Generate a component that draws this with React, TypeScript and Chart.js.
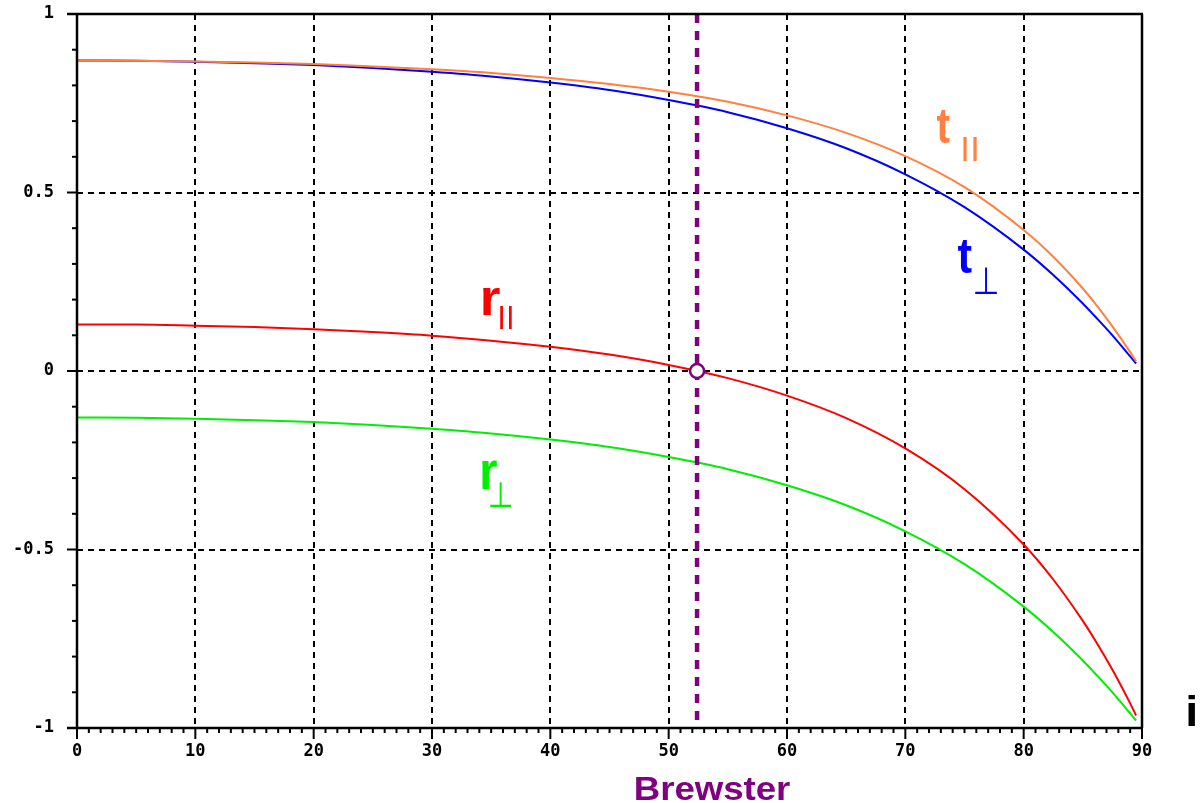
import React, { useEffect, useRef } from 'react';
import { Chart, registerables } from 'chart.js';

Chart.register(...registerables);

// Incidence angle (degrees) and Fresnel amplitude coefficients
const ANGLES = [0, 5, 10, 15, 20, 25, 30, 35, 40, 45, 50, 55, 60, 65, 70, 75, 80, 82.5, 85, 86, 87.5, 89, 89.5];
const T_PAR = [0.870, 0.869, 0.867, 0.864, 0.860, 0.853, 0.845, 0.835, 0.821, 0.804, 0.782, 0.754, 0.716, 0.667, 0.602, 0.515, 0.395, 0.320, 0.231, 0.191, 0.125, 0.053, 0.027];
const T_PERP = [0.870, 0.869, 0.866, 0.862, 0.857, 0.849, 0.838, 0.825, 0.808, 0.787, 0.759, 0.725, 0.680, 0.624, 0.551, 0.459, 0.340, 0.269, 0.189, 0.154, 0.100, 0.041, 0.021];
const R_PAR = [0.130, 0.130, 0.127, 0.123, 0.117, 0.109, 0.099, 0.085, 0.068, 0.046, 0.017, -0.020, -0.069, -0.132, -0.217, -0.331, -0.486, -0.584, -0.700, -0.752, -0.837, -0.931, -0.965];
const R_PERP = [-0.130, -0.131, -0.134, -0.138, -0.143, -0.151, -0.162, -0.175, -0.192, -0.213, -0.241, -0.275, -0.320, -0.376, -0.449, -0.541, -0.660, -0.731, -0.811, -0.846, -0.900, -0.959, -0.979];
const BREWSTER_ANGLE = 52.4;

const X_TICKS = [0, 10, 20, 30, 40, 50, 60, 70, 80, 90];
const Y_TICKS = [-1, -0.5, 0, 0.5, 1];
const Y_TICK_LABELS = ['-1', '-0.5', '0', '0.5', '1'];

const COLORS = {
  tPar: '#FF8040',
  tPerp: '#0000FF',
  rPar: '#FF0000',
  rPerp: '#00EE00',
  brewster: '#800080',
};

const pts = (ys: number[]) => ANGLES.map((a, i) => ({ x: a, y: ys[i] }));

type Box = { l: number; t: number; r: number; b: number };

function drawInk(ctx: CanvasRenderingContext2D, text: string, font: string, color: string, box: Box) {
  ctx.save();
  ctx.font = font;
  ctx.textAlign = 'left';
  ctx.textBaseline = 'alphabetic';
  const m = ctx.measureText(text);
  const w = m.actualBoundingBoxLeft + m.actualBoundingBoxRight;
  const h = m.actualBoundingBoxAscent + m.actualBoundingBoxDescent;
  ctx.translate(box.l, box.t);
  ctx.scale((box.r - box.l) / w, (box.b - box.t) / h);
  ctx.fillStyle = color;
  ctx.fillText(text, m.actualBoundingBoxLeft, m.actualBoundingBoxAscent);
  ctx.restore();
}

const framePlugin = {
  id: 'frameAndLabels',
  afterDraw(chart: any) {
    const ctx: CanvasRenderingContext2D = chart.ctx;
    const { left, right, top, bottom } = chart.chartArea;
    const xs = chart.scales.x;
    const ys = chart.scales.y;
    ctx.save();
    ctx.strokeStyle = '#000';
    ctx.setLineDash([]);
    ctx.lineWidth = 2;
    for (let i = 0; i <= 20; i++) {
      const v = -1 + i * 0.1;
      const y = ys.getPixelForValue(v);
      const len = i % 5 === 0 ? 10 : 5;
      ctx.beginPath();
      ctx.moveTo(left - len, y);
      ctx.lineTo(left, y);
      ctx.stroke();
    }
    for (let v = 0; v <= 90; v++) {
      const x = xs.getPixelForValue(v);
      const len = v % 10 === 0 ? 11 : 5;
      ctx.beginPath();
      ctx.moveTo(x, bottom);
      ctx.lineTo(x, bottom + len);
      ctx.stroke();
    }
    ctx.lineWidth = 2.5;
    ctx.beginPath();
    ctx.moveTo(left - 10, top);
    ctx.lineTo(right + 1, top);
    ctx.moveTo(left - 10, bottom);
    ctx.lineTo(right + 1, bottom);
    ctx.moveTo(left, top);
    ctx.lineTo(left, bottom);
    ctx.moveTo(right, top);
    ctx.lineTo(right, bottom);
    ctx.stroke();
    ctx.restore();

    const big = 'bold 100px "Liberation Sans"';
    const thin = '100px "Liberation Sans"';
    const sym = '100px "DejaVu Sans"';
    drawInk(ctx, 't', big, COLORS.tPar, { l: 937, t: 110, r: 950, b: 143 });
    drawInk(ctx, '||', thin, COLORS.tPar, { l: 963, t: 137, r: 977, b: 162 });
    drawInk(ctx, 't', big, COLORS.tPerp, { l: 958, t: 240, r: 972, b: 274 });
    drawInk(ctx, '⊥', sym, COLORS.tPerp, { l: 975, t: 267, r: 997, b: 294 });
    drawInk(ctx, 'r', big, COLORS.rPar, { l: 483, t: 288, r: 500, b: 315 });
    drawInk(ctx, '||', thin, COLORS.rPar, { l: 500, t: 307, r: 512, b: 329 });
    drawInk(ctx, 'r', big, COLORS.rPerp, { l: 482, t: 461, r: 497, b: 489 });
    drawInk(ctx, '⊥', sym, COLORS.rPerp, { l: 490, t: 482, r: 511, b: 507 });
    drawInk(ctx, 'Brewster', big, COLORS.brewster, { l: 636, t: 777, r: 790, b: 800 });
    drawInk(ctx, 'i', big, '#000', { l: 1188, t: 695, r: 1195, b: 725.5 });
  },
};

export default function App() {
  const ref = useRef<HTMLCanvasElement | null>(null);

  useEffect(() => {
    if (!ref.current) return;
    const tickFont = { family: '"DejaVu Sans Mono"', size: 17, weight: 'bold' as const };
    const zeroPad = (s: any) => {
      s.paddingTop = 0;
      s.paddingBottom = 0;
      s.paddingLeft = 0;
      s.paddingRight = 0;
    };
    const chart = new Chart(ref.current, {
      type: 'line',
      data: {
        datasets: [
          {
            label: 'Brewster point',
            data: [{ x: BREWSTER_ANGLE, y: 0 }],
            showLine: false,
            pointRadius: 7,
            pointBackgroundColor: '#FFFFFF',
            pointBorderColor: COLORS.brewster,
            pointBorderWidth: 2.5,
            order: -2,
          },
          {
            label: 'Brewster',
            data: [{ x: BREWSTER_ANGLE, y: 1 }, { x: BREWSTER_ANGLE, y: -1 }],
            borderColor: COLORS.brewster,
            borderWidth: 4.5,
            borderDash: [9, 8],
            pointRadius: 0,
            order: -1,
          },
          {
            label: 't∥',
            data: pts(T_PAR),
            borderColor: COLORS.tPar,
            borderWidth: 2,
            pointRadius: 0,
            cubicInterpolationMode: 'monotone',
            order: 1,
          },
          {
            label: 't⊥',
            data: pts(T_PERP),
            borderColor: COLORS.tPerp,
            borderWidth: 2,
            pointRadius: 0,
            cubicInterpolationMode: 'monotone',
            order: 2,
          },
          {
            label: 'r∥',
            data: pts(R_PAR),
            borderColor: COLORS.rPar,
            borderWidth: 2,
            pointRadius: 0,
            cubicInterpolationMode: 'monotone',
            order: 3,
          },
          {
            label: 'r⊥',
            data: pts(R_PERP),
            borderColor: COLORS.rPerp,
            borderWidth: 2,
            pointRadius: 0,
            cubicInterpolationMode: 'monotone',
            order: 4,
          },
        ],
      },
      options: {
        animation: false,
        responsive: false,
        maintainAspectRatio: false,
        layout: { padding: { left: 0, right: 61, top: 14, bottom: 0 }, autoPadding: false },
        plugins: { legend: { display: false }, tooltip: { enabled: false } },
        scales: {
          x: {
            type: 'linear',
            min: 0,
            max: 90,
            afterBuildTicks: (s: any) => {
              s.ticks = X_TICKS.map((v) => ({ value: v }));
            },
            afterFit: (s: any) => {
              s.height = 75;
              zeroPad(s);
            },
            ticks: { font: tickFont, color: '#000', padding: 13, maxRotation: 0, autoSkip: false },
            grid: {
              color: (c: any) => (c.tick && (c.tick.value === 0 || c.tick.value === 90) ? 'rgba(0,0,0,0)' : '#000'),
              lineWidth: 2,
              drawTicks: false,
            },
            border: { display: false, dash: [6, 5] },
          },
          y: {
            type: 'linear',
            min: -1,
            max: 1,
            afterBuildTicks: (s: any) => {
              s.ticks = Y_TICKS.map((v) => ({ value: v }));
            },
            afterFit: (s: any) => {
              s.width = 77;
              zeroPad(s);
            },
            ticks: {
              font: tickFont,
              color: '#000',
              padding: 23,
              callback: (v: any) => {
                const i = Y_TICKS.indexOf(Number(v));
                return i >= 0 ? Y_TICK_LABELS[i] : '';
              },
            },
            grid: {
              color: (c: any) => (c.tick && (c.tick.value === 1 || c.tick.value === -1) ? 'rgba(0,0,0,0)' : '#000'),
              lineWidth: 2,
              drawTicks: false,
            },
            border: { display: false, dash: [6, 5] },
          },
        },
      },
      plugins: [framePlugin],
    });
    return () => chart.destroy();
  }, []);

  return (
    <div style={{ position: 'absolute', left: 0, top: 0, width: 1203, height: 803, background: '#fff' }}>
      <canvas ref={ref} width={1203} height={803} style={{ display: 'block' }} />
    </div>
  );
}
